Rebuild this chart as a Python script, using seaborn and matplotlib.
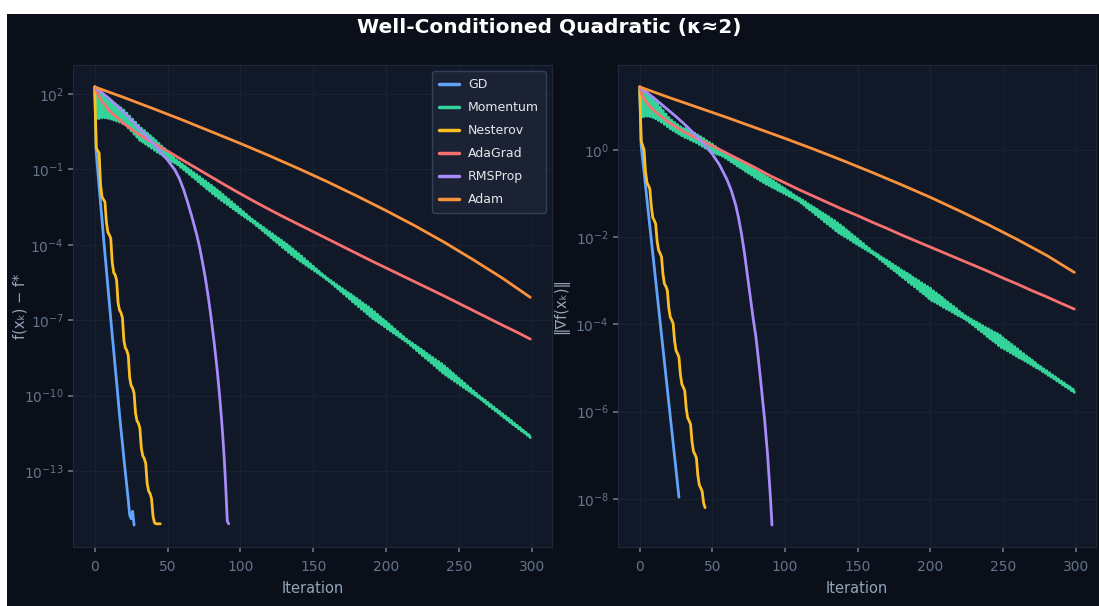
import numpy as np
import pandas as pd
import matplotlib
matplotlib.use("Agg")
import matplotlib.pyplot as plt
from matplotlib.patches import Rectangle
from matplotlib.ticker import NullLocator
import seaborn as sns

# Optimiser traces, stored as log10 of the plotted quantity
methods = ['GD', 'Momentum', 'Nesterov', 'AdaGrad', 'RMSProp', 'Adam']
colors = ['#60a5fa', '#34d399', '#fbbf24', '#f87171', '#a78bfa', '#fb923c']

# ---- left panel: f(x_k) - f* ----
gd_f = [2.28, -0.3, -1.0, -1.7, -2.35, -3.0, -3.7, -4.35, -5.0, -5.65, -6.3, -6.95, -7.6, -8.2,
        -8.85, -9.45, -10.1, -10.75, -11.35, -11.9, -12.5, -13.05, -13.6, -14.15, -14.75, -14.9,
        -14.6, -15.15]
mom_f = [2.28, 1.00, 2.15, 1.02, 2.05, 1.05, 1.97, 1.05, 1.88, 1.03, 1.80, 1.00, 1.70, 0.96, 1.62, 0.92,
         1.53, 0.88, 1.45, 0.83, 1.36, 0.78, 1.24, 0.65, 1.12, 0.53, 1.00, 0.40, 0.88, 0.28, 0.76, 0.15,
         0.64, 0.08, 0.55, 0.00, 0.45, -0.08, 0.35, -0.16, 0.25, -0.24, 0.15, -0.32, 0.04, -0.39,
         -0.07, -0.47, -0.17, -0.55, -0.28, -0.62, -0.39, -0.69, -0.51, -0.75, -0.62, -0.82, -0.70, -0.92,
         -0.79, -1.01, -0.87, -1.11, -0.96, -1.20, -1.04, -1.30, -1.13, -1.39, -1.21, -1.49, -1.29, -1.59,
         -1.38, -1.68, -1.46, -1.78, -1.55, -1.87, -1.63, -1.97, -1.72, -2.06, -1.81, -2.15, -1.90, -2.24,
         -2.00, -2.32, -2.10, -2.40, -2.19, -2.49, -2.29, -2.57, -2.39, -2.65, -2.48, -2.74, -2.58, -2.82,
         -2.68, -2.90, -2.78, -2.98, -2.88, -3.06, -2.98, -3.14, -3.06, -3.24, -3.15, -3.33, -3.23, -3.43,
         -3.31, -3.53, -3.40, -3.62, -3.48, -3.72, -3.56, -3.82, -3.65, -3.91, -3.73, -4.01, -3.81, -4.11,
         -3.90, -4.20, -3.98, -4.30, -4.07, -4.39, -4.16, -4.48, -4.26, -4.56, -4.35, -4.65, -4.45, -4.73,
         -4.55, -4.81, -4.65, -4.89, -4.75, -4.97, -4.85, -5.05, -4.95, -5.13, -5.05, -5.21, -5.15, -5.29,
         -5.24, -5.38, -5.34, -5.46, -5.42, -5.56, -5.50, -5.66, -5.58, -5.76, -5.66, -5.86, -5.74, -5.96,
         -5.82, -6.06, -5.90, -6.16, -5.97, -6.27, -6.06, -6.36, -6.14, -6.46, -6.22, -6.56, -6.31, -6.65,
         -6.39, -6.75, -6.47, -6.85, -6.56, -6.94, -6.66, -7.02, -6.76, -7.10, -6.86, -7.18, -6.96, -7.26,
         -7.05, -7.35, -7.15, -7.43, -7.25, -7.51, -7.35, -7.59, -7.45, -7.67, -7.55, -7.75, -7.65, -7.83,
         -7.75, -7.91, -7.83, -8.01, -7.91, -8.11, -7.99, -8.21, -8.07, -8.31, -8.15, -8.41, -8.23, -8.51,
         -8.32, -8.60, -8.40, -8.70, -8.48, -8.80, -8.56, -8.90, -8.64, -9.00, -8.72, -9.10, -8.81, -9.19,
         -8.91, -9.27, -9.01, -9.35, -9.11, -9.43, -9.21, -9.51, -9.31, -9.59, -9.41, -9.67, -9.51, -9.75,
         -9.61, -9.83, -9.71, -9.91, -9.81, -9.99, -9.91, -10.07, -10.01, -10.15, -10.10, -10.24, -10.18,
         -10.34, -10.27, -10.43, -10.36, -10.52, -10.45, -10.61, -10.54, -10.70, -10.63, -10.79, -10.72,
         -10.88, -10.81, -10.97, -10.90, -11.06, -10.99, -11.15, -11.09, -11.23, -11.18, -11.32, -11.27,
         -11.41, -11.37, -11.49, -11.46, -11.58, -11.55, -11.67]
nest_f = [2.28, -0.15, -0.25, -0.35, -1.6, -2.1, -2.2, -2.3, -3.1, -3.5, -3.6, -3.75, -4.7, -5.1, -5.2,
          -5.4, -6.3, -6.6, -6.7, -6.9, -7.8, -8.1, -8.2, -8.4, -9.3, -9.6, -9.7, -9.9, -10.7, -11.0,
          -11.1, -11.3, -12.1, -12.4, -12.5, -12.7, -13.5, -13.8, -13.9, -14.1, -14.8, -15.05, -15.1,
          -15.1, -15.1, -15.1]
ada_f_it = [0, 2, 5, 10, 20, 30, 40, 50, 60, 70, 80, 90, 100, 110, 120, 130, 140, 150, 160, 170,
            180, 190, 200, 210, 220, 230, 240, 250, 260, 270, 280, 290, 299]
ada_f = [2.28, 2.0, 1.7, 1.33, 0.82, 0.4, 0.05, -0.27, -0.62, -0.96, -1.3, -1.64, -1.97, -2.29, -2.6,
         -2.9, -3.19, -3.48, -3.77, -4.06, -4.35, -4.64, -4.92, -5.2, -5.48, -5.76, -6.04, -6.33,
         -6.62, -6.91, -7.2, -7.48, -7.75]
rms_f_it = [0, 5, 10, 15, 20, 25, 30, 35, 40, 45, 50, 55, 58, 61, 64, 67, 70, 72, 74, 76, 78, 80,
            82, 84, 85, 86, 87, 88, 89, 90, 91, 92]
rms_f = [2.28, 2.05, 1.81, 1.54, 1.26, 0.97, 0.67, 0.36, 0.04, -0.29, -0.63, -1.02, -1.35, -1.8,
         -2.35, -2.95, -3.6, -4.1, -4.7, -5.35, -6.1, -6.95, -7.9, -8.95, -9.55, -10.2, -10.9, -11.7,
         -12.6, -13.7, -15.0, -15.1]
adam_f_it = [0, 20, 40, 60, 80, 100, 120, 140, 160, 180, 200, 220, 240, 260, 280, 299]
adam_f = [2.28, 1.86, 1.42, 0.97, 0.5, 0.03, -0.46, -0.97, -1.5, -2.06, -2.64, -3.25, -3.9, -4.6,
          -5.33, -6.09]

# ---- right panel: ||grad f(x_k)|| ----
gd_g = [1.44, 0.10, -0.21, -0.52, -0.83, -1.14, -1.45, -1.76, -2.07, -2.38, -2.69, -3.00, -3.31,
        -3.62, -3.93, -4.24, -4.55, -4.86, -5.17, -5.48, -5.79, -6.10, -6.41, -6.72, -7.03, -7.34,
        -7.65, -7.96]
mom_g = [1.44, 0.74, 1.36, 0.76, 1.31, 0.77, 1.26, 0.76, 1.21, 0.74, 1.15, 0.71, 1.09, 0.67, 0.98, 0.63,
         0.90, 0.58, 0.82, 0.53, 0.74, 0.48, 0.68, 0.44, 0.63, 0.40, 0.58, 0.36, 0.53, 0.32, 0.49, 0.28,
         0.49, 0.26, 0.46, 0.22, 0.42, 0.19, 0.38, 0.16, 0.34, 0.12, 0.30, 0.08, 0.26, 0.04, 0.21, 0.01,
         0.17, -0.03, 0.13, -0.07, 0.08, -0.10, 0.02, -0.12, -0.03, -0.15, -0.06, -0.19, -0.10, -0.23,
         -0.14, -0.28, -0.17, -0.32, -0.21, -0.37, -0.25, -0.41, -0.28, -0.45, -0.32, -0.50, -0.35, -0.54,
         -0.39, -0.58, -0.43, -0.63, -0.46, -0.67, -0.50, -0.71, -0.54, -0.75, -0.58, -0.79, -0.63, -0.82,
         -0.67, -0.86, -0.71, -0.89, -0.76, -0.93, -0.80, -0.96, -0.85, -1.00, -0.89, -1.03, -0.94, -1.07,
         -0.98, -1.10, -1.03, -1.14, -1.07, -1.17, -1.11, -1.22, -1.15, -1.27, -1.19, -1.33, -1.24, -1.38,
         -1.28, -1.43, -1.32, -1.49, -1.36, -1.54, -1.41, -1.59, -1.45, -1.65, -1.49, -1.70, -1.53, -1.75,
         -1.58, -1.80, -1.62, -1.86, -1.67, -1.91, -1.72, -1.95, -1.77, -1.99, -1.83, -2.03, -1.88, -2.07,
         -1.94, -2.12, -1.99, -2.16, -2.04, -2.20, -2.10, -2.24, -2.15, -2.28, -2.21, -2.32, -2.26, -2.36,
         -2.32, -2.40, -2.36, -2.45, -2.40, -2.51, -2.45, -2.56, -2.49, -2.61, -2.53, -2.67, -2.57, -2.72,
         -2.62, -2.77, -2.66, -2.82, -2.70, -2.88, -2.75, -2.93, -2.79, -2.98, -2.83, -3.04, -2.87, -3.09,
         -2.92, -3.14, -2.96, -3.19, -3.00, -3.25, -3.05, -3.30, -3.09, -3.35, -3.13, -3.41, -3.17, -3.46,
         -3.23, -3.49, -3.28, -3.53, -3.33, -3.57, -3.38, -3.61, -3.44, -3.65, -3.49, -3.68, -3.54, -3.72,
         -3.59, -3.76, -3.64, -3.80, -3.70, -3.83, -3.75, -3.87, -3.80, -3.91, -3.84, -3.96, -3.88, -4.01,
         -3.92, -4.06, -3.95, -4.12, -3.99, -4.17, -4.03, -4.22, -4.07, -4.28, -4.10, -4.33, -4.14, -4.38,
         -4.18, -4.43, -4.21, -4.49, -4.25, -4.54, -4.31, -4.57, -4.36, -4.61, -4.41, -4.65, -4.46, -4.69,
         -4.51, -4.73, -4.56, -4.77, -4.62, -4.80, -4.67, -4.84, -4.72, -4.88, -4.77, -4.92, -4.82, -4.96,
         -4.87, -5.00, -4.93, -5.03, -4.97, -5.08, -5.02, -5.12, -5.06, -5.17, -5.11, -5.21, -5.16, -5.25,
         -5.20, -5.30, -5.25, -5.34, -5.30, -5.39, -5.34, -5.43, -5.39, -5.47, -5.43, -5.52, -5.48, -5.56]
nest_g = [1.44, 0.2, 0.1, 0.0, -0.5, -0.75, -0.82, -0.9, -1.3, -1.55, -1.62, -1.7, -2.1, -2.3, -2.37,
          -2.45, -2.85, -3.07, -3.13, -3.22, -3.62, -3.83, -3.9, -3.98, -4.38, -4.6, -4.67, -4.75, -5.15,
          -5.37, -5.44, -5.52, -5.92, -6.14, -6.21, -6.29, -6.69, -6.91, -6.98, -7.06, -7.46, -7.68,
          -7.75, -7.83, -8.1, -8.2]
ada_g_it = ada_f_it
ada_g = [1.44, 1.22, 1.07, 0.89, 0.63, 0.42, 0.25, 0.09, -0.08, -0.25, -0.42, -0.6, -0.76, -0.92,
         -1.07, -1.22, -1.37, -1.51, -1.66, -1.8, -1.95, -2.09, -2.23, -2.37, -2.51, -2.65, -2.79,
         -2.94, -3.08, -3.23, -3.37, -3.52, -3.65]
rms_g_it = [0, 5, 10, 15, 20, 25, 30, 35, 40, 45, 50, 55, 60, 63, 66, 68, 70, 72, 74, 76, 78, 80,
            82, 84, 86, 88, 90, 91]
rms_g = [1.44, 1.31, 1.18, 1.04, 0.9, 0.76, 0.61, 0.45, 0.28, 0.1, -0.1, -0.35, -0.68, -0.93, -1.26,
         -1.56, -1.92, -2.35, -2.85, -3.35, -3.85, -4.3, -4.9, -5.55, -6.2, -7.0, -8.0, -8.6]
adam_g_it = adam_f_it
adam_g = [1.44, 1.2, 0.97, 0.74, 0.5, 0.26, 0.01, -0.25, -0.52, -0.8, -1.09, -1.4, -1.72, -2.06,
          -2.42, -2.81]


def to_frame(series):
    parts = []
    for name, it, val in series:
        if it is None:
            it = np.arange(len(val))
        parts.append(pd.DataFrame({'Iteration': it, 'value': 10.0 ** np.asarray(val), 'method': name}))
    return pd.concat(parts, ignore_index=True)


left_df = to_frame([('GD', None, gd_f), ('Momentum', None, mom_f), ('Nesterov', None, nest_f),
                    ('AdaGrad', ada_f_it, ada_f), ('RMSProp', rms_f_it, rms_f), ('Adam', adam_f_it, adam_f)])
right_df = to_frame([('GD', None, gd_g), ('Momentum', None, mom_g), ('Nesterov', None, nest_g),
                     ('AdaGrad', ada_g_it, ada_g), ('RMSProp', rms_g_it, rms_g), ('Adam', adam_g_it, adam_g)])

bg = '#0b0f19'
sns.set_theme(style='darkgrid', rc={
    'figure.facecolor': 'white', 'axes.facecolor': '#111827', 'axes.edgecolor': '#1f2937',
    'axes.linewidth': 0.8, 'grid.color': '#1a2232', 'grid.linewidth': 0.8,
    'xtick.color': '#64748b', 'ytick.color': '#64748b', 'xtick.labelcolor': '#64748b',
    'ytick.labelcolor': '#64748b', 'xtick.bottom': True, 'ytick.left': True,
    'xtick.major.size': 3.5, 'ytick.major.size': 3.5, 'xtick.major.pad': 6,
    'ytick.major.pad': 3, 'axes.labelcolor': '#94a3b8',
    'text.color': '#f3f4f6', 'font.size': 10, 'xtick.labelsize': 10, 'ytick.labelsize': 10,
    'axes.labelsize': 10.5,
})
plt.rcParams['font.family'] = ['DejaVu Sans']

palette = dict(zip(methods, colors))
fig = plt.figure(figsize=(10.99, 6.06), dpi=100)
# dark canvas, leaving the thin white margin seen on the top and left edges
fig.patches.append(Rectangle((7 / 1099, 0), 1, 1 - 14 / 606, transform=fig.transFigure,
                             facecolor=bg, edgecolor='none', zorder=-10))
ax1 = fig.add_axes([0.0664, 0.0974, 0.4359, 0.7953])
ax2 = fig.add_axes([0.5623, 0.0974, 0.4350, 0.7953])

for ax, df, show in [(ax1, left_df, True), (ax2, right_df, False)]:
    sns.lineplot(data=df, x='Iteration', y='value', hue='method', hue_order=methods,
                 palette=palette, estimator=None, linewidth=2.0, ax=ax, legend=show)
    ax.set_yscale('log')
    ax.set_xticks([0, 50, 100, 150, 200, 250, 300])
    ax.set_xlabel('Iteration', labelpad=5)
    ax.grid(True, which='major')

ax1.set_yticks([1e2, 1e-1, 1e-4, 1e-7, 1e-10, 1e-13])
ax1.yaxis.set_minor_locator(NullLocator())
ax1.set_ylabel('f(xₖ) − f*')
ax1.yaxis.set_label_coords(-0.095, 0.5)
ax2.set_yticks([1e0, 1e-2, 1e-4, 1e-6, 1e-8])
ax2.yaxis.set_minor_locator(NullLocator())
ax2.set_ylabel('‖∇f(xₖ)‖')
ax2.yaxis.set_label_coords(-0.103, 0.5)

old = ax1.get_legend()
handles = old.legend_handles
labels = [t.get_text() for t in old.get_texts()]
leg = ax1.legend(handles, labels, loc='upper right', fontsize=9, frameon=True,
                 facecolor='#1a2233', edgecolor='#334155', framealpha=1.0,
                 labelspacing=0.8, handlelength=1.6, handletextpad=0.7, borderpad=0.55)
for t in leg.get_texts():
    t.set_color('#e5e7eb')
for h in leg.legend_handles:
    h.set_linewidth(2.5)

fig.suptitle('Well-Conditioned Quadratic (κ≈2)', fontsize=14.5, fontweight='bold',
             color='white', y=1 - 28 / 606, va='center')

fig.savefig('out.png', dpi=100)
